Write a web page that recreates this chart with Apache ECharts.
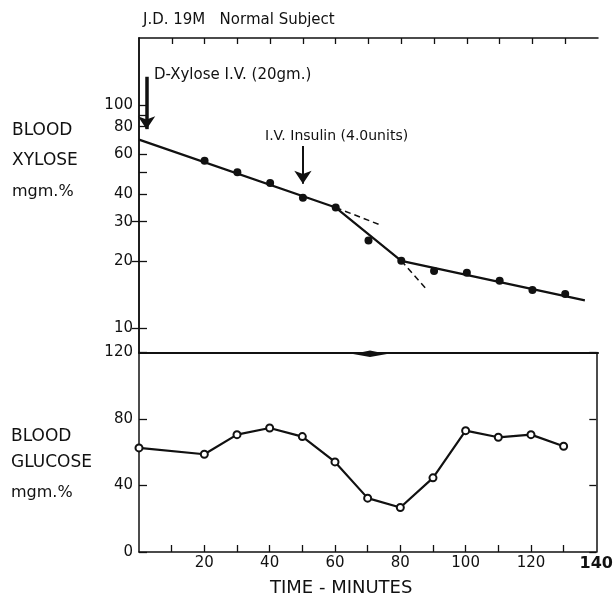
<!DOCTYPE html>
<html><head><meta charset="utf-8">
<script src="https://cdn.jsdelivr.net/npm/echarts@6/dist/echarts.min.js"></script>
<style>html,body{margin:0;padding:0;background:#fff}#c{width:616px;height:599px}</style>
</head><body><div id="c"></div>
<script>
// ---- data ----
const xyloseMinutes = [20, 30, 40, 50, 60, 70, 80, 90, 100, 110, 120, 130];
const xyloseValues  = [56.2, 50, 44.7, 38.4, 34.7, 24.7, 20, 18, 17.7, 16.3, 14.8, 14.2];
const fitMinutes    = [0, 60, 80, 136];
const fitValues     = [70, 34.7, 20, 13.3];
const dashAMinutes  = [60, 73.8];
const dashAValues   = [34.7, 28.9];
const dashBMinutes  = [80, 87.7];
const dashBValues   = [20, 14.9];
const glucoseMinutes = [0, 20, 30, 40, 50, 60, 70, 80, 90, 100, 110, 120, 130];
const glucoseValues  = [62.6, 58.8, 70.6, 74.6, 69.4, 54.2, 32.4, 26.8, 44.6, 73, 69, 70.6, 63.6];
const xyloseTickValues  = [10, 20, 30, 40, 50, 60, 80, 90, 100];
const xyloseLabelValues = [10, 20, 30, 40, 60, 80, 100];
const xyloseRightTicks  = [10, 20, 30];
const glucoseLabelValues = [0, 40, 80, 120];
const timeTickValues  = [10, 20, 30, 40, 50, 60, 70, 80, 90, 100, 110, 120, 130];
const timeLabelValues = [20, 40, 60, 80, 100, 120, 140];
const xyloseArrow  = [[2.3, 134], [2.3, 78]];
const insulinArrow = [[50, 65.6], [50, 44.4]];

const zip = (a, b) => a.map((v, i) => [v, b[i]]);
const FONT = 'DejaVu Sans';
const BLACK = '#111';

const chart = echarts.init(document.getElementById('c'), null, {renderer: 'canvas'});
const lineStyleAxis = {color: BLACK, width: 1.5};
const yLabel = {margin: 6, fontSize: 15, color: BLACK, fontFamily: FONT};

chart.setOption({
  animation: false,
  backgroundColor: '#fff',
  textStyle: {fontFamily: FONT, color: BLACK},
  grid: [
    {left: 139, right: 18, top: 38, height: 314.5},
    {left: 139, right: 18, top: 352.5, height: 199.5}
  ],
  xAxis: [
    {gridIndex: 0, type: 'value', min: 0, max: 140, position: 'bottom',
     axisLine: {lineStyle: {color: BLACK, width: 2.2}}, axisTick: {show: false},
     axisLabel: {show: false}, splitLine: {show: false}},
    {gridIndex: 0, type: 'value', min: 0, max: 140, position: 'top',
     axisLine: {lineStyle: lineStyleAxis},
     axisTick: {inside: true, length: 6, customValues: timeTickValues, lineStyle: {color: BLACK, width: 1.3}},
     axisLabel: {show: false}, splitLine: {show: false}},
    {gridIndex: 1, type: 'value', min: 0, max: 140, position: 'bottom',
     axisLine: {lineStyle: lineStyleAxis},
     axisTick: {inside: true, length: 7, customValues: timeTickValues, lineStyle: {color: BLACK, width: 1.3}},
     axisLabel: {customValues: timeLabelValues, margin: 4, fontSize: 15, color: BLACK, fontFamily: FONT,
       formatter: v => v === 140 ? '{b|140}' : String(v),
       rich: {b: {fontWeight: 'bold', fontSize: 16, fontFamily: FONT, color: BLACK}}},
     splitLine: {show: false}}
  ],
  yAxis: [
    {gridIndex: 0, type: 'log', min: 7.76, max: 200, position: 'left',
     axisLine: {show: true, lineStyle: lineStyleAxis},
     axisTick: {show: true, inside: true, length: 8, customValues: xyloseTickValues, lineStyle: {color: BLACK, width: 1.3}},
     axisLabel: Object.assign({customValues: xyloseLabelValues}, yLabel),
     splitLine: {show: false}, minorTick: {show: false}},
    {gridIndex: 0, type: 'log', min: 7.76, max: 200, position: 'right',
     axisLine: {show: true, lineStyle: lineStyleAxis},
     axisTick: {show: true, inside: true, length: 7, customValues: xyloseRightTicks, lineStyle: {color: BLACK, width: 1.3}},
     axisLabel: {show: false}, splitLine: {show: false}},
    {gridIndex: 1, type: 'value', min: 0, max: 120, interval: 40, position: 'left',
     axisLine: {show: true, lineStyle: lineStyleAxis},
     axisTick: {show: true, inside: true, length: 8, lineStyle: {color: BLACK, width: 1.3}},
     axisLabel: Object.assign({customValues: glucoseLabelValues}, yLabel),
     splitLine: {show: false}},
    {gridIndex: 1, type: 'value', min: 0, max: 120, interval: 40, position: 'right',
     axisLine: {show: true, lineStyle: lineStyleAxis},
     axisTick: {show: true, inside: true, length: 7, lineStyle: {color: BLACK, width: 1.3}},
     axisLabel: {show: false}, splitLine: {show: false}}
  ],
  series: [
    {type: 'line', xAxisIndex: 0, yAxisIndex: 0, data: zip(fitMinutes, fitValues),
     showSymbol: false, symbol: 'none', lineStyle: {color: BLACK, width: 2.2}, z: 3,
     markLine: {silent: true, symbol: ['none', 'arrow'], symbolSize: 13, label: {show: false},
       emphasis: {disabled: true},
       data: [
         [{coord: xyloseArrow[0], lineStyle: {color: BLACK, width: 3.5, type: 'solid'}, symbolSize: 13}, {coord: xyloseArrow[1]}],
         [{coord: insulinArrow[0], lineStyle: {color: BLACK, width: 2, type: 'solid'}, symbolSize: 10}, {coord: insulinArrow[1]}]
       ]}},
    {type: 'line', xAxisIndex: 0, yAxisIndex: 0, data: zip(dashAMinutes, dashAValues),
     symbol: 'none', lineStyle: {color: BLACK, width: 1.5, type: [6, 4]}},
    {type: 'line', xAxisIndex: 0, yAxisIndex: 0, data: zip(dashBMinutes, dashBValues),
     symbol: 'none', lineStyle: {color: BLACK, width: 1.5, type: [6, 4]}},
    {type: 'scatter', xAxisIndex: 0, yAxisIndex: 0, data: zip(xyloseMinutes, xyloseValues),
     symbol: 'circle', symbolSize: 8, itemStyle: {color: BLACK, opacity: 1}, z: 4},
    {type: 'line', xAxisIndex: 2, yAxisIndex: 2, data: zip(glucoseMinutes, glucoseValues),
     symbol: 'emptyCircle', symbolSize: 7, showAllSymbol: true,
     itemStyle: {color: BLACK, borderWidth: 1.5}, lineStyle: {color: BLACK, width: 2.2}, z: 3}
  ],
  graphic: [
    {type: 'text', left: 143, top: 13, style: {text: 'J.D. 19M   Normal Subject', font: '15px "DejaVu Sans"', fill: BLACK}},
    {type: 'text', left: 154, top: 68, style: {text: 'D-Xylose I.V. (20gm.)', font: '15px "DejaVu Sans"', fill: BLACK}},
    {type: 'text', left: 265, top: 129, style: {text: 'I.V. Insulin (4.0units)', font: '14px "DejaVu Sans"', fill: BLACK}},
    {type: 'text', left: 12, top: 122, style: {text: 'BLOOD', font: '17px "DejaVu Sans"', fill: BLACK}},
    {type: 'text', left: 12, top: 152, style: {text: 'XYLOSE', font: '17px "DejaVu Sans"', fill: BLACK}},
    {type: 'text', left: 12, top: 184, style: {text: 'mgm.%', font: '16px "DejaVu Sans"', fill: BLACK}},
    {type: 'text', left: 11, top: 428, style: {text: 'BLOOD', font: '17px "DejaVu Sans"', fill: BLACK}},
    {type: 'text', left: 11, top: 454, style: {text: 'GLUCOSE', font: '17px "DejaVu Sans"', fill: BLACK}},
    {type: 'text', left: 11, top: 485, style: {text: 'mgm.%', font: '16px "DejaVu Sans"', fill: BLACK}},
    {type: 'text', left: 270, top: 579, style: {text: 'TIME - MINUTES', font: '18px "DejaVu Sans"', fill: BLACK}},
    {type: 'polygon', shape: {points: [[353, 354], [370, 350.5], [387, 354], [370, 357]]}, style: {fill: BLACK}}
  ]
});
</script></body></html>
